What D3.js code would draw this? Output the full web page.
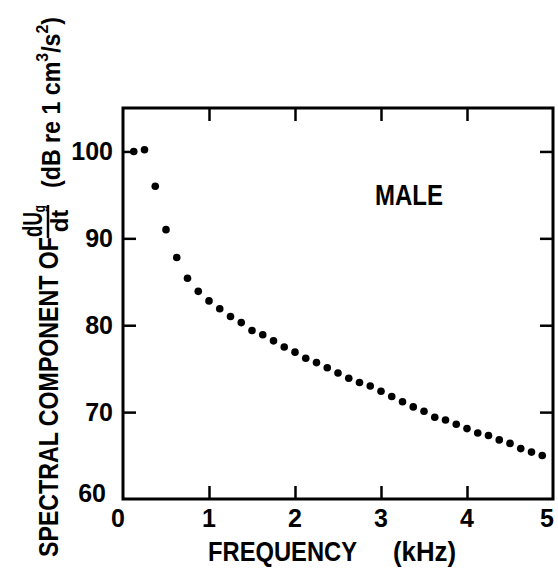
<!DOCTYPE html>
<html>
<head>
<meta charset="utf-8">
<script src="https://cdn.jsdelivr.net/npm/d3@7"></script>
<style>
  html, body { margin: 0; padding: 0; background: #fff; }
  svg { display: block; }
  text { font-family: "Liberation Sans", Arial, sans-serif; font-weight: bold; fill: #000; }
</style>
</head>
<body>
<script>
// ---- data ----
const frequencyKHz = [0.125, 0.25, 0.375, 0.5, 0.625, 0.75, 0.875, 1.0, 1.125, 1.25,
  1.375, 1.5, 1.625, 1.75, 1.875, 2.0, 2.125, 2.25, 2.375, 2.5,
  2.625, 2.75, 2.875, 3.0, 3.125, 3.25, 3.375, 3.5, 3.625, 3.75,
  3.875, 4.0, 4.125, 4.25, 4.375, 4.5, 4.625, 4.75, 4.875];
const levelDB = [100.0, 100.2, 96.0, 91.0, 87.8, 85.4, 83.9, 82.8, 81.9, 81.0,
  80.3, 79.4, 78.9, 78.2, 77.5, 76.9, 76.2, 75.7, 75.1, 74.5,
  73.9, 73.4, 73.0, 72.4, 71.8, 71.2, 70.6, 70.1, 69.4, 69.1,
  68.6, 68.1, 67.6, 67.3, 66.8, 66.4, 65.8, 65.4, 65.0];
const xTicks = [0, 1, 2, 3, 4, 5];
const yTicks = [60, 70, 80, 90, 100];
const seriesLabel = "MALE";
const xTitle = ["FREQUENCY", "(kHz)"];

// ---- layout ----
const W = 558, H = 570;
const mLeft = 123, mRight = 553, mTop = 108, mBottom = 499;

const svg = d3.select("body").append("svg").attr("width", W).attr("height", H);
svg.append("rect").attr("width", W).attr("height", H).attr("fill", "#fff");

const x = d3.scaleLinear().domain([0, 5]).range([mLeft, mRight]);
const y = d3.scaleLinear().domain([60, 105]).range([mBottom, mTop]);

const tickLen = 13;
const innerX = xTicks.filter(d => d > 0 && d < 5);
const innerY = yTicks.filter(d => d > 60);

// axes with inward ticks, via d3 axis generators
const axB = svg.append("g").attr("transform", `translate(0,${mBottom})`)
  .call(d3.axisTop(x).tickValues(innerX).tickSize(tickLen).tickFormat(""));
const axT = svg.append("g").attr("transform", `translate(0,${mTop})`)
  .call(d3.axisBottom(x).tickValues(innerX).tickSize(tickLen).tickFormat(""));
const axL = svg.append("g").attr("transform", `translate(${mLeft},0)`)
  .call(d3.axisRight(y).tickValues(innerY).tickSize(tickLen).tickFormat(""));
const axR = svg.append("g").attr("transform", `translate(${mRight},0)`)
  .call(d3.axisLeft(y).tickValues(innerY).tickSize(tickLen).tickFormat(""));
[axB, axT, axL, axR].forEach(g => {
  g.select(".domain").remove();
  g.selectAll(".tick line").attr("stroke", "#000").attr("stroke-width", 2.5);
});

// frame
svg.append("rect")
  .attr("x", mLeft).attr("y", mTop)
  .attr("width", mRight - mLeft).attr("height", mBottom - mTop)
  .attr("fill", "none").attr("stroke", "#000").attr("stroke-width", 3);

// x tick labels
svg.append("g").selectAll("text").data(xTicks).join("text")
  .attr("x", d => x(d) + (d === 0 ? -5 : d === 5 ? -6 : 0))
  .attr("y", 527)
  .attr("text-anchor", "middle")
  .attr("font-size", 25)
  .text(d => d);

// y tick labels
svg.append("g").selectAll("text").data(yTicks).join("text")
  .attr("x", d => d === 60 ? 106 : 113)
  .attr("y", d => d === 60 ? 502 : y(d) + 8.5)
  .attr("text-anchor", "end")
  .attr("font-size", 25)
  .text(d => d);

// data points
svg.append("g").selectAll("circle").data(frequencyKHz).join("circle")
  .attr("cx", d => x(d))
  .attr("cy", (d, i) => y(levelDB[i]))
  .attr("r", 3.8)
  .attr("fill", "#000");

// series label
svg.append("text")
  .attr("x", 375).attr("y", 205)
  .attr("font-size", 29)
  .attr("textLength", 68).attr("lengthAdjust", "spacingAndGlyphs")
  .text(seriesLabel);

// x axis title
svg.append("text")
  .attr("x", 208).attr("y", 561)
  .attr("font-size", 28)
  .attr("textLength", 149).attr("lengthAdjust", "spacingAndGlyphs")
  .text(xTitle[0]);
svg.append("text")
  .attr("x", 393).attr("y", 561)
  .attr("font-size", 28)
  .attr("textLength", 63).attr("lengthAdjust", "spacingAndGlyphs")
  .text(xTitle[1]);

// y axis title (rotated): local x = -screenY, local y = screenX
const yt = svg.append("g").attr("transform", "rotate(-90)");
yt.append("text")
  .attr("x", -557).attr("y", 58)
  .attr("font-size", 28)
  .attr("textLength", 320).attr("lengthAdjust", "spacingAndGlyphs")
  .text("SPECTRAL COMPONENT OF");
// fraction dU_g / dt
const num = yt.append("text")
  .attr("x", -237).attr("y", 42)
  .attr("font-size", 27)
  .attr("textLength", 32).attr("lengthAdjust", "spacingAndGlyphs");
num.append("tspan").text("dU");
num.append("tspan").attr("font-size", 17).attr("dy", 3).text("g");
yt.append("line")
  .attr("x1", -238).attr("x2", -205)
  .attr("y1", 48).attr("y2", 48)
  .attr("stroke", "#000").attr("stroke-width", 2.5);
yt.append("text")
  .attr("x", -221).attr("y", 68)
  .attr("text-anchor", "middle")
  .attr("font-size", 24)
  .text("dt");
// units
const un = yt.append("text")
  .attr("x", -188).attr("y", 60)
  .attr("font-size", 25)
  .attr("textLength", 171).attr("lengthAdjust", "spacingAndGlyphs");
un.append("tspan").text("(dB re 1 cm");
un.append("tspan").attr("font-size", 17).attr("dy", -12).text("3");
un.append("tspan").attr("dy", 12).text("/s");
un.append("tspan").attr("font-size", 17).attr("dy", -12).text("2");
un.append("tspan").attr("dy", 12).text(")");
</script>
</body>
</html>
